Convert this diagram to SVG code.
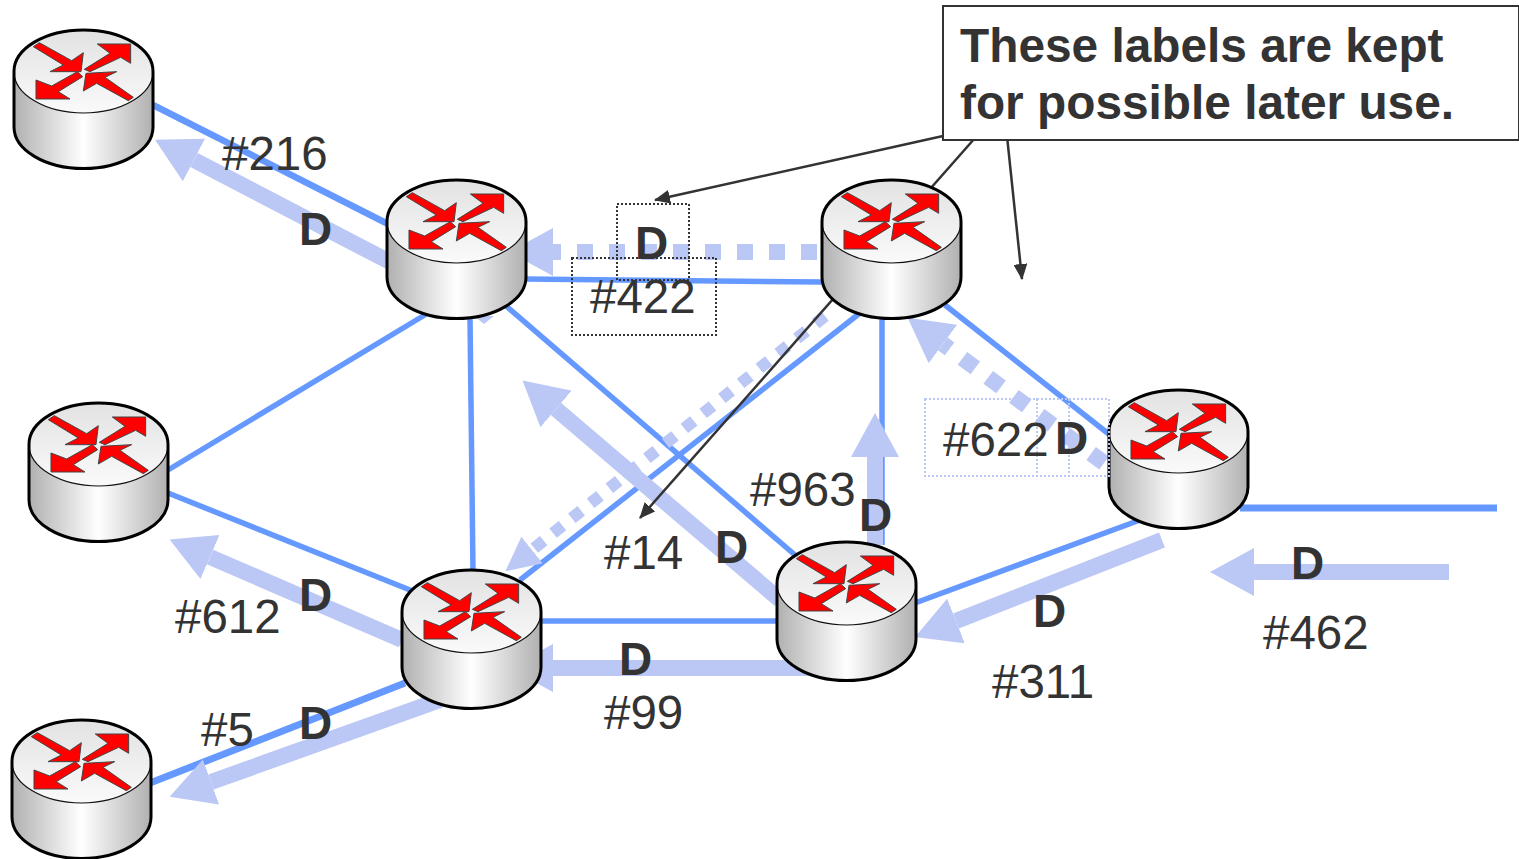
<svg xmlns="http://www.w3.org/2000/svg" width="1519" height="859" viewBox="0 0 1519 859">
<style>
.lk{stroke:#6699FF;stroke-width:5.500;fill:none}
.fl{stroke:#BBC8F5;stroke-width:16;fill:none;marker-end:url(#h)}
.dt{stroke-dasharray:16 16}
.ds{stroke-width:12;stroke-dasharray:12 12;marker-end:url(#hs)}
.an{stroke:#333;stroke-width:2.500;fill:none}
.ah{marker-end:url(#a)}
.t{font-family:"Liberation Sans",Arial,sans-serif;font-size:47.500px;fill:#333}
.d{font-family:"Liberation Sans",Arial,sans-serif;font-size:46px;font-weight:bold;fill:#333}
.b{font-family:"Liberation Sans",Arial,sans-serif;font-size:47.800px;font-weight:bold;fill:#333}
.bx{fill:none;stroke:#333;stroke-width:2;stroke-dasharray:2 2}
.bl{fill:none;stroke:#BBC8F5;stroke-width:2;stroke-dasharray:2 2}
.ar{fill:#F00;stroke:#444;stroke-width:3}
</style>
<defs>
<marker id="h" markerUnits="userSpaceOnUse" markerWidth="44" markerHeight="48" viewBox="0 0 44 48" refX="0" refY="24" orient="auto"><path d="M0,0L44,24L0,48z" fill="#BBC8F5"/></marker>
<marker id="hs" markerUnits="userSpaceOnUse" markerWidth="34" markerHeight="34" viewBox="0 0 34 34" refX="0" refY="17" orient="auto"><path d="M0,0L34,17L0,34z" fill="#BBC8F5"/></marker>
<marker id="a" markerUnits="userSpaceOnUse" markerWidth="16" markerHeight="14" viewBox="0 0 16 14" refX="15" refY="7" orient="auto"><path d="M0,0L16,7L0,14z" fill="#333"/></marker>
<linearGradient id="s" x1="0" x2="1" y1="0" y2="0"><stop offset="0" stop-color="#B0B0B0"/><stop offset=".5" stop-color="#FFF"/><stop offset="1" stop-color="#B0B0B0"/></linearGradient>
<linearGradient id="tp" x1="0" x2="0" y1="0" y2="1"><stop offset="0" stop-color="#E2E2E2"/><stop offset="1" stop-color="#FAFAFA"/></linearGradient>
<g id="router">
<path d="M0,41.500V97A69.500,41.500 0 0 0 139,97V41.500A69.500,41.500 0 0 0 0,41.500z" fill="url(#s)"/>
<ellipse cx="69.500" cy="41.500" rx="69.500" ry="41.500" fill="url(#tp)" stroke="#111" stroke-width="1.200"/>
<path d="M0,41.500V97A69.500,41.500 0 0 0 139,97V41.500A69.500,41.500 0 0 0 0,41.500z" fill="none" stroke="#000" stroke-width="3"/>
<g transform="translate(-14,-10) scale(.3333)">
<path class="ar" d="M100,80L118,68L215,122L250,98L243,155L150,155L190,135z"/>
<path class="ar" d="M253,148L330,100L292,72L392,72L392,130L362,112L270,155z"/>
<path class="ar" d="M248,170L232,155L155,198L108,180L108,237L210,237L175,215z"/>
<path class="ar" d="M400,232L385,242L290,190L250,213L258,160L350,155L315,172z"/>
</g>
</g>
</defs>
<g id="connectors">
<line class="lk" style="stroke-width:6.500" x1="153" y1="105" x2="390" y2="225"/>
<line class="lk" x1="525" y1="279" x2="822" y2="282"/>
<line class="lk" x1="428" y1="313" x2="168" y2="470"/>
<line class="lk" x1="470" y1="318" x2="473" y2="572"/>
<line class="lk" x1="505" y1="305" x2="795" y2="555"/>
<line class="lk" x1="860" y1="313" x2="520" y2="580"/>
<line class="lk" x1="882" y1="318" x2="882" y2="545"/>
<line class="lk" x1="945" y1="305" x2="1110" y2="435"/>
<line class="lk" x1="168" y1="493" x2="415" y2="592"/>
<line class="lk" x1="540" y1="621" x2="778" y2="621"/>
<line class="lk" style="stroke-width:7" x1="405" y1="683" x2="150" y2="783"/>
<line class="lk" x1="915" y1="603" x2="1140" y2="520"/>
<line class="lk" style="stroke-width:7" x1="1240" y1="508" x2="1497" y2="508"/>
<line class="fl" x1="390" y1="262" x2="194" y2="160"/>
<line class="fl dt" x1="817" y1="252" x2="553" y2="252"/>
<line class="fl ds" x1="825" y1="316" x2="532" y2="550"/>
<line class="fl dt" x1="1104" y1="463" x2="943" y2="344"/>
<line class="fl" x1="875" y1="545" x2="875" y2="457"/>
<line class="fl" x1="780" y1="600" x2="556" y2="409"/>
<line class="fl" x1="402" y1="640" x2="210" y2="557"/>
<line class="fl" x1="810" y1="668" x2="553" y2="668"/>
<line class="fl" x1="440" y1="700" x2="211" y2="782"/>
<line class="fl" x1="1162" y1="540" x2="956" y2="621"/>
<line class="fl" x1="1449" y1="572" x2="1254" y2="572"/>
<polygon points="474,316 494,316 484,324" fill="#BBC8F5"/>
<line class="an ah" x1="943" y1="136" x2="655" y2="200"/>
<line class="an ah" x1="975" y1="138" x2="640" y2="518"/>
<line class="an ah" x1="1007" y1="136" x2="1022" y2="279"/>
</g>
<g id="router1"><use href="#router" x="14" y="30"/></g>
<g id="router2"><use href="#router" x="387" y="180"/></g>
<g id="router3"><use href="#router" x="822" y="180"/></g>
<g id="router4"><use href="#router" x="29" y="403"/></g>
<g id="router5"><use href="#router" x="402" y="570"/></g>
<g id="router6"><use href="#router" x="777" y="542"/></g>
<g id="router7"><use href="#router" x="1109" y="390"/></g>
<g id="router8"><use href="#router" x="12" y="720"/></g>
<g id="note">
<rect x="943" y="6" width="576" height="134" fill="#FFF" stroke="#333" stroke-width="2"/>
<text class="b" x="960" y="62">These labels are kept</text>
<text class="b" x="960" y="119">for possible later use.</text>
</g>
<g id="labels">
<rect class="bx" x="617" y="204" width="72" height="76"/>
<rect class="bx" x="572" y="258" width="144" height="77"/>
<rect class="bl" x="925" y="399" width="144" height="77"/>
<rect class="bl" x="1037" y="399" width="72" height="77"/>
<text class="t" x="222" y="170">#216</text><text class="d" x="299" y="245">D</text>
<text class="t" x="590" y="313">#422</text><text class="d" x="635" y="259">D</text>
<text class="t" x="943" y="456">#622</text><text class="d" x="1055" y="454">D</text>
<text class="t" x="750" y="506">#963</text><text class="d" x="859" y="531">D</text>
<text class="t" x="604" y="569">#14</text><text class="d" x="715" y="563">D</text>
<text class="t" x="175" y="633">#612</text><text class="d" x="299" y="611">D</text>
<text class="t" x="201" y="746">#5</text><text class="d" x="299" y="739">D</text>
<text class="t" x="604" y="729">#99</text><text class="d" x="619" y="675">D</text>
<text class="t" x="992" y="698">#311</text><text class="d" x="1033" y="627">D</text>
<text class="t" x="1263" y="649">#462</text><text class="d" x="1291" y="579">D</text>
</g>
</svg>
